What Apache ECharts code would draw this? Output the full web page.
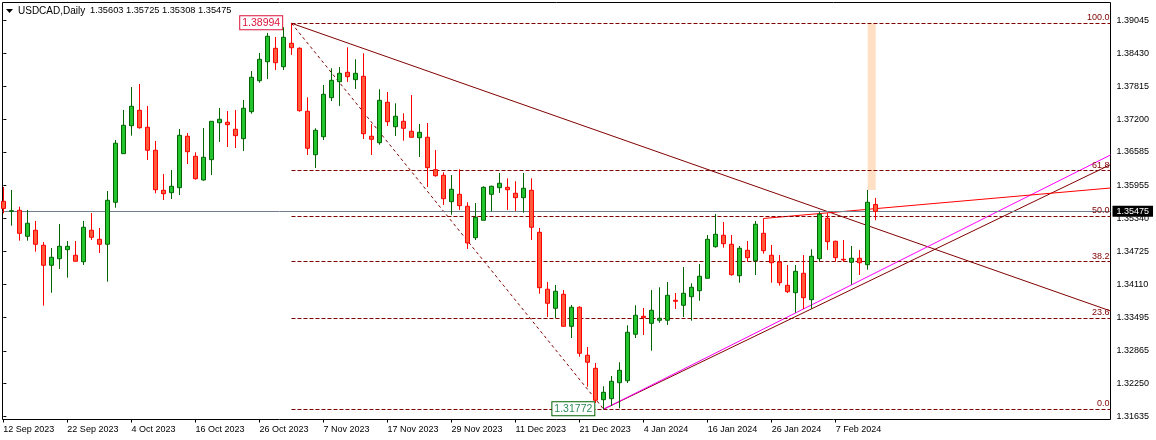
<!DOCTYPE html>
<html>
<head>
<meta charset="utf-8">
<title>USDCAD,Daily</title>
<script src="https://cdn.jsdelivr.net/npm/echarts@6/dist/echarts.min.js"></script>
<style>
html, body { margin: 0; padding: 0; background: #fff; }
#main { width: 1156px; height: 440px; }
</style>
</head>
<body>
<div id="main"></div>
<script>
// candles are numbered 0..109, one per trading day
var opens = [
	1.35662, 1.35475, 1.35494, 1.35007, 1.35120, 1.34839, 1.34465, 1.34588, 1.34757, 1.34652,
	1.34532, 1.35120, 1.34951, 1.34858, 1.35644, 1.36553, 1.37077, 1.37365, 1.37047, 1.36617,
	1.35868, 1.35823, 1.35917, 1.36879, 1.36504, 1.36061, 1.36441, 1.37133, 1.37141, 1.37010,
	1.36834, 1.37339, 1.37919, 1.38274, 1.38525, 1.38181, 1.38619, 1.38525, 1.37346, 1.36534,
	1.36871, 1.37601, 1.37900, 1.38076, 1.37938, 1.38001, 1.36879, 1.36759, 1.37515, 1.37058,
	1.37159, 1.36972, 1.36852, 1.36860, 1.36254, 1.36149, 1.35655, 1.35793, 1.35569, 1.34981,
	1.35307, 1.35793, 1.35917, 1.35924, 1.35812, 1.35730, 1.35868, 1.35082, 1.34016, 1.33660,
	1.33922, 1.33323, 1.33679, 1.32781, 1.32537, 1.31950, 1.31969, 1.32268, 1.32305, 1.33174,
	1.33510, 1.33379, 1.33436, 1.33436, 1.33810, 1.33716, 1.33877, 1.33989, 1.34221, 1.34813,
	1.35026, 1.34858, 1.34270, 1.34745, 1.34551, 1.35063, 1.34652, 1.34526, 1.34090, 1.33952,
	1.34315, 1.33821, 1.34588, 1.35344, 1.34914, 1.34577, 1.34521, 1.34596, 1.34476, 1.35603
];
var closes = [
	1.35528, 1.35486, 1.35063, 1.35251, 1.34858, 1.34465, 1.34614, 1.34820, 1.34820, 1.34540,
	1.35176, 1.34989, 1.34858, 1.35681, 1.36748, 1.37084, 1.37440, 1.37039, 1.36617, 1.35879,
	1.35804, 1.35943, 1.36897, 1.36590, 1.36085, 1.36486, 1.37159, 1.37197, 1.37096, 1.36890,
	1.37403, 1.37983, 1.38319, 1.38750, 1.38256, 1.38731, 1.38536, 1.37358, 1.36654, 1.36991,
	1.37664, 1.37926, 1.38057, 1.37994, 1.38057, 1.36927, 1.36822, 1.37552, 1.37152, 1.37253,
	1.37028, 1.36860, 1.36953, 1.36291, 1.36141, 1.35711, 1.35887, 1.35580, 1.34882, 1.35363,
	1.35924, 1.35943, 1.35999, 1.35879, 1.35730, 1.35906, 1.35176, 1.34046, 1.33754, 1.33978,
	1.33323, 1.33679, 1.32818, 1.32650, 1.31939, 1.32088, 1.32294, 1.32500, 1.33211, 1.33529,
	1.33484, 1.33623, 1.33473, 1.33903, 1.33791, 1.33941, 1.34053, 1.34259, 1.34951, 1.35045,
	1.34869, 1.34289, 1.34783, 1.34607, 1.35232, 1.34738, 1.34513, 1.34139, 1.33971, 1.34352,
	1.33858, 1.34633, 1.35419, 1.34906, 1.34607, 1.34564, 1.34596, 1.34513, 1.35644, 1.35475
];
var lows = [
	1.35438, 1.35206, 1.34925, 1.34925, 1.34719, 1.33709, 1.33952, 1.34395, 1.34233, 1.34540,
	1.34470, 1.34938, 1.34695, 1.34158, 1.35543, 1.36553, 1.36890, 1.37021, 1.36435, 1.35812,
	1.35687, 1.35705, 1.35780, 1.36360, 1.36066, 1.36048, 1.36154, 1.36772, 1.36678, 1.36660,
	1.36604, 1.37301, 1.37882, 1.37951, 1.38119, 1.38119, 1.38400, 1.37339, 1.36529, 1.36285,
	1.36809, 1.37539, 1.37446, 1.37895, 1.37764, 1.36828, 1.36529, 1.36721, 1.37071, 1.36884,
	1.36796, 1.36860, 1.36491, 1.35930, 1.36123, 1.35593, 1.35412, 1.35499, 1.34770, 1.34938,
	1.35307, 1.35475, 1.35818, 1.35499, 1.35481, 1.35449, 1.34938, 1.33933, 1.33497, 1.33479,
	1.33323, 1.33104, 1.32754, 1.32193, 1.31888, 1.31772, 1.31832, 1.31789, 1.32262, 1.33104,
	1.33160, 1.32867, 1.33391, 1.33348, 1.33647, 1.33497, 1.33428, 1.33802, 1.34221, 1.34794,
	1.34794, 1.34270, 1.34139, 1.34532, 1.34283, 1.34682, 1.34139, 1.34083, 1.33946, 1.33578,
	1.33647, 1.33653, 1.34532, 1.34751, 1.34532, 1.34532, 1.34102, 1.34283, 1.34382, 1.35308
];
var highs = [
	1.35930, 1.35874, 1.35561, 1.35499, 1.35294, 1.34901, 1.34788, 1.35238, 1.34919, 1.34919,
	1.35294, 1.35443, 1.35163, 1.35855, 1.36809, 1.37371, 1.37801, 1.37857, 1.37446, 1.36791,
	1.36173, 1.36248, 1.37015, 1.36940, 1.36579, 1.37034, 1.37159, 1.37408, 1.37352, 1.37371,
	1.37558, 1.38100, 1.38437, 1.38812, 1.38737, 1.38918, 1.38994, 1.38544, 1.37608, 1.37028,
	1.37838, 1.38151, 1.38175, 1.38544, 1.38319, 1.38432, 1.37109, 1.37758, 1.37707, 1.37496,
	1.37309, 1.37651, 1.37109, 1.37127, 1.36622, 1.36205, 1.36154, 1.36261, 1.35644, 1.35630,
	1.35943, 1.35954, 1.36192, 1.36093, 1.36037, 1.36192, 1.36093, 1.35163, 1.34152, 1.34096,
	1.34003, 1.33722, 1.33698, 1.32936, 1.32637, 1.32201, 1.32393, 1.32650, 1.33342, 1.33716,
	1.33666, 1.34003, 1.34053, 1.34152, 1.33946, 1.34433, 1.34128, 1.34489, 1.35032, 1.35425,
	1.35275, 1.35032, 1.34826, 1.34919, 1.35294, 1.35344, 1.34845, 1.34657, 1.34470, 1.34470,
	1.34657, 1.34764, 1.35468, 1.35438, 1.34925, 1.34938, 1.34826, 1.34751, 1.35874, 1.35725
];

// axis labels
var dateLabels = ['12 Sep 2023', '22 Sep 2023', '4 Oct 2023', '16 Oct 2023', '26 Oct 2023', '7 Nov 2023', '17 Nov 2023',
	'29 Nov 2023', '11 Dec 2023', '21 Dec 2023', '4 Jan 2024', '16 Jan 2024', '26 Jan 2024', '7 Feb 2024'];
var dateTicks = [0, 8, 16, 24, 32, 40, 48, 56, 64, 72, 80, 88, 96, 104];
var priceTicks = [1.39045, 1.38430, 1.37815, 1.37200, 1.36585, 1.35955, 1.35340, 1.34725, 1.34110, 1.33495, 1.32865, 1.32250, 1.31635];

// objects drawn on the chart
var swingHigh = 1.38994, swingLow = 1.31772, lastPrice = 1.35475;
var highIndex = 36, lowIndex = 75, leftEnd = -0.104, rightEnd = 138.33;
var fiboNames = ['100.0', '61.8', '50.0', '38.2', '23.6', '0.0'];
var fiboPrices = [1.38994, 1.36235, 1.35383, 1.34531, 1.33476, 1.31772];
var downTrend = [[36, 1.38994], [138.33, 1.33610]];
var upTrendDark = [[75, 1.31772], [138.33, 1.36349]];
var upTrendPink = [[75, 1.31772], [138.33, 1.36529]];
var redTrend = [[95, 1.35341], [138.33, 1.35911]];
var fiboDiagonal = [[36, 1.38994], [75, 1.31772]];
var peachBox = [[108, 1.38994], [109, 1.35875]];

var candles = opens.map(function (o, i) {
	return [i, o, closes[i], lows[i], highs[i]];
});
var font = 'Liberation Sans, Arial, sans-serif';
var hair = function (points, color, dash) {
	return {
		type: 'line',
		data: points,
		symbol: 'none',
		silent: true,
		z: 1,
		lineStyle: { color: color, width: 1, type: dash || 'solid' }
	};
};
var priceTag = function (index, price, color, textColor) {
	return {
		coord: [index, price],
		symbolSize: 1,
		itemStyle: { color: 'transparent' },
		label: {
			show: true,
			position: 'left',
			distance: 9,
			formatter: price.toFixed(5),
			fontFamily: font,
			fontSize: 10.5,
			color: textColor,
			backgroundColor: '#fff',
			borderColor: color,
			borderWidth: 1,
			padding: [1, 2, 1, 2]
		}
	};
};

var chart = echarts.init(document.getElementById('main'), null, { renderer: 'canvas' });
var option = {
	animation: false,
	backgroundColor: '#fff',
	grid: {
		left: 2.5, top: 2.5, width: 1108, height: 417,
		show: true, borderColor: '#000', borderWidth: 1, backgroundColor: '#fff'
	},
	xAxis: {
		type: 'value',
		min: leftEnd,
		max: rightEnd,
		splitLine: { show: false },
		axisLine: { show: false },
		axisTick: { show: true, length: 3, customValues: dateTicks, lineStyle: { color: '#000' } },
		axisLabel: {
			customValues: dateTicks,
			align: 'left',
			margin: 5.5,
			fontFamily: font,
			fontSize: 9,
			color: '#000',
			formatter: function (v) { return dateLabels[dateTicks.indexOf(v)]; }
		}
	},
	yAxis: {
		type: 'value',
		position: 'right',
		min: 1.31579,
		max: 1.39382,
		splitLine: { show: false },
		axisLine: { show: false },
		axisTick: { show: true, length: 3, customValues: priceTicks, lineStyle: { color: '#000' } },
		axisLabel: {
			customValues: priceTicks,
			margin: 6,
			fontFamily: font,
			fontSize: 9,
			color: '#000',
			formatter: function (v) { return v.toFixed(5); }
		}
	},
	graphic: [
		{ type: 'polygon', shape: { points: [[6, 9], [13, 9], [9.5, 13]] }, style: { fill: '#000' }, z: 10 },
		{ type: 'text', x: 18, y: 6, z: 10, style: { text: 'USDCAD,Daily', fontFamily: font, fontSize: 10, fill: '#000' } },
		{ type: 'text', x: 90, y: 6, z: 10, style: { text: '1.35603 1.35725 1.35308 1.35475', fontFamily: font, fontSize: 9.25, fill: '#000' } }
	],
	series: [
		{
			// last price line and the tag on the price scale
			type: 'line',
			data: [],
			z: 1,
			markLine: {
				silent: true,
				symbol: 'none',
				lineStyle: { color: '#708090', width: 1, type: 'solid' },
				label: {
					position: 'end',
					distance: 2,
					formatter: lastPrice.toFixed(5),
					fontFamily: font,
					fontSize: 9,
					color: '#fff',
					backgroundColor: '#000',
					padding: [1, 4, 1, 4]
				},
				data: [[{ coord: [leftEnd, lastPrice] }, { coord: [rightEnd, lastPrice] }]]
			},
			markArea: {
				silent: true,
				itemStyle: { color: '#FFE0C4' },
				data: [[{ coord: peachBox[0] }, { coord: peachBox[1] }]]
			}
		},
		{
			// fibo levels
			type: 'line',
			data: [],
			z: 1,
			markLine: {
				silent: true,
				symbol: 'none',
				lineStyle: { color: '#800000', width: 1, type: [4, 2] },
				label: {
					position: 'insideEndTop',
					distance: 1,
					fontFamily: font,
					fontSize: 9,
					color: '#800000',
					formatter: function (p) { return p.name; }
				},
				data: fiboPrices.map(function (p, i) {
					return [{ coord: [highIndex, p], name: fiboNames[i] }, { coord: [rightEnd, p] }];
				})
			},
			markPoint: {
				silent: true,
				data: [
					priceTag(highIndex, swingHigh, '#DC143C', '#DC143C'),
					priceTag(lowIndex, swingLow, '#006400', '#2E8B57')
				]
			}
		},
		hair(fiboDiagonal, '#800000', [3, 3]),
		hair(downTrend, '#800000'),
		hair(upTrendDark, '#800000'),
		hair(upTrendPink, '#FF00FF'),
		hair(redTrend, '#FF0000'),
		{
			type: 'candlestick',
			data: candles,
			barWidth: 4,
			z: 5,
			itemStyle: {
				color: '#22C32E',
				color0: '#FF5A3C',
				borderColor: '#006400',
				borderColor0: '#FF0000',
				borderColorDoji: '#FF0000',
				borderWidth: 1
			}
		}
	]
};
chart.setOption(option);
</script>
</body>
</html>
